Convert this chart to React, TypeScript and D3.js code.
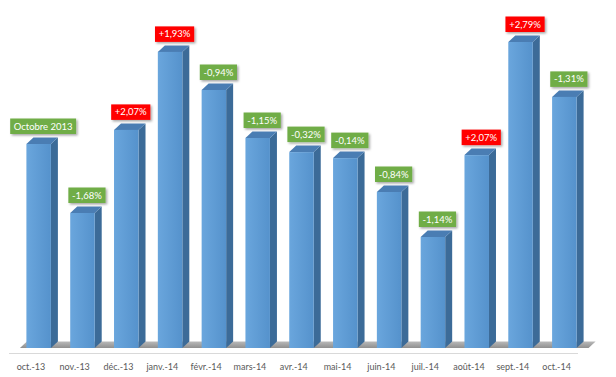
import React, { useEffect, useRef } from "react";
import * as d3 from "d3";

const categories = ["oct.-13", "nov.-13", "déc.-13", "janv.-14", "févr.-14", "mars-14", "avr.-14", "mai-14", "juin-14", "juil.-14", "août-14", "sept.-14", "oct.-14"];
const values = [68, 45, 72.7, 98.7, 86, 70, 65.3, 63.3, 52, 37, 64.3, 102, 83.7];
const labels = ["Octobre 2013", "-1,68%", "+2,07%", "+1,93%", "-0,94%", "-1,15%", "-0,32%", "-0,14%", "-0,84%", "-1,14%", "+2,07%", "+2,79%", "-1,31%"];
const labelKinds = ["base", "down", "up", "up", "down", "down", "down", "down", "down", "down", "up", "up", "down"];

const W = 616;
const H = 377;
const FONT = "Lato, 'Liberation Sans', sans-serif";

export default function App() {
  const ref = useRef<SVGSVGElement | null>(null);

  useEffect(() => {
    const svg = d3.select(ref.current);
    svg.selectAll("*").remove();

    const base = 348;
    const x = d3.scaleBand<string>().domain(categories).range([9, 578.5]).paddingInner(0).paddingOuter(0);
    const y = d3.scaleLinear().domain([0, 100]).range([base, 48]);
    const depth = 7;
    const dy = 6.5;
    const frontW = 24.5;
    const off = -4.5; // front left offset from category center

    const defs = svg.append("defs");
    const fg = defs.append("linearGradient").attr("id", "front").attr("x1", 0).attr("x2", 1).attr("y1", 0).attr("y2", 0);
    fg.append("stop").attr("offset", "0%").attr("stop-color", "#6aa6dd");
    fg.append("stop").attr("offset", "100%").attr("stop-color", "#5592cc");
    const flg = defs.append("linearGradient").attr("id", "floor").attr("x1", 0).attr("x2", 0).attr("y1", 0).attr("y2", 1);
    flg.append("stop").attr("offset", "0%").attr("stop-color", "#b9b9b9");
    flg.append("stop").attr("offset", "100%").attr("stop-color", "#8f8f8f");
    const sh = defs.append("filter").attr("id", "shadow").attr("x", "-20%").attr("y", "-30%").attr("width", "150%").attr("height", "180%");
    sh.append("feDropShadow").attr("dx", 1.5).attr("dy", 1.5).attr("stdDeviation", 1.2).attr("flood-color", "#000").attr("flood-opacity", 0.35);

    // floor
    const fx0 = (x(categories[0]) as number) + x.bandwidth() / 2 - 11;
    const fx1 = (x(categories[categories.length - 1]) as number) + x.bandwidth() / 2 + 32;
    svg.append("polygon")
      .attr("points", `${fx0},${base} ${fx1},${base} ${fx1 + depth},${base - dy} ${fx0 + depth},${base - dy}`)
      .attr("fill", "url(#floor)");

    // axis line
    svg.append("line").attr("x1", 9).attr("x2", 578).attr("y1", 353.5).attr("y2", 353.5)
      .attr("stroke", "#d9d9d9").attr("stroke-width", 1);

    const g = svg.append("g");
    categories.forEach((c, i) => {
      const cx = (x(c) as number) + x.bandwidth() / 2;
      const x0 = cx + off;
      const x1 = x0 + frontW;
      const yt = y(values[i]);
      // side
      g.append("polygon")
        .attr("points", `${x1},${yt} ${x1 + depth},${yt - dy} ${x1 + depth},${base - dy} ${x1},${base}`)
        .attr("fill", "#3c6b98");
      // top
      g.append("polygon")
        .attr("points", `${x0},${yt} ${x1},${yt} ${x1 + depth},${yt - dy} ${x0 + depth},${yt - dy}`)
        .attr("fill", "#4a7db3");
      // front
      g.append("rect").attr("x", x0).attr("y", yt).attr("width", frontW).attr("height", base - yt)
        .attr("fill", "url(#front)");

      // value label
      const lg = svg.append("g");
      const t = lg.append("text")
        .attr("x", 0).attr("y", 0)
        .attr("font-family", FONT).attr("font-size", 9.5)
        .attr("fill", "#ffffff").attr("text-anchor", "middle")
        .text(labels[i]);
      const bb = (t.node() as SVGTextElement).getBBox();
      const bw = bb.width + 7;
      const bh = 15.5;
      const lcx = x0 + (frontW + depth) / 2 + 1;
      const by = yt - dy - 3.5 - bh;
      const color = labelKinds[i] === "up" ? "#ff0000" : "#70ad47";
      lg.insert("rect", "text")
        .attr("x", lcx - bw / 2).attr("y", by).attr("width", bw).attr("height", bh)
        .attr("fill", color).attr("filter", "url(#shadow)");
      t.attr("x", lcx).attr("y", by + bh / 2 + 3.3);

      // tick label
      svg.append("text")
        .attr("x", cx).attr("y", 370)
        .attr("font-family", FONT).attr("font-size", 9)
        .attr("fill", "#595959").attr("text-anchor", "middle")
        .text(c);
    });
  }, []);

  return (
    <svg
      ref={ref}
      width={W}
      height={H}
      style={{ position: "absolute", left: 0, top: 0, background: "#ffffff" }}
    />
  );
}
